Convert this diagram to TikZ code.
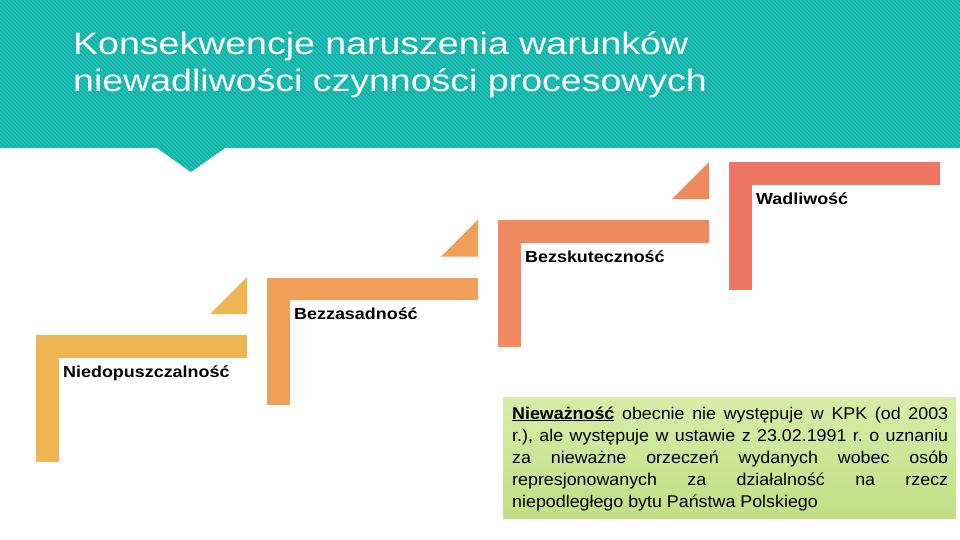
\documentclass[tikz,border=0pt]{standalone}
\usepackage{fontspec}
\setmainfont{Liberation Sans}
\newfontfamily\titlefont{Liberation Sans}[FakeStretch=1.21]
\newfontfamily\lblfont{Liberation Sans}[FakeStretch=1.12]
\newfontfamily\boxfont{Liberation Sans}[FakeStretch=1.05]
\definecolor{teal1}{HTML}{22C6BA}
\definecolor{teal2}{HTML}{12AAA0}
\definecolor{c1}{HTML}{F0B553}
\definecolor{c2}{HTML}{EF9F57}
\definecolor{c3}{HTML}{EE8A5E}
\definecolor{c4}{HTML}{EE7561}
\definecolor{gtop}{HTML}{D8ECA8}
\definecolor{gbot}{HTML}{C2DF86}
\begin{document}
\begin{tikzpicture}[x=1pt,y=-1pt,
  steplabel/.style={anchor=base west,inner sep=0,text=black,font=\lblfont\bfseries\fontsize{16}{19}\selectfont},
  stripe/.style={teal2,line width=1.1}]
\useasboundingbox (0,0) rectangle (960,540);
\fill[white] (0,0) rectangle (960,540);
% header band
\def\band{(0,0) -- (960,0) -- (960,148) -- (225,148) -- (191,172) -- (157,148) -- (0,148) -- cycle}
\fill[teal1] \band;
\begin{scope}
  \clip \band;
  \foreach \a in {-200,-196,...,960} \draw[stripe] (\a,-2) -- ++(180,180);
\end{scope}
\node[anchor=base west,inner sep=0,text=white,align=left,
  font=\titlefont\fontsize{31}{37}\selectfont] (title) at (73,92)
  {Konsekwencje naruszenia warunków\\niewadliwości czynności procesowych};
% steps
\foreach \i/\col in {0/c1,1/c2,2/c3,3/c4}{
  \pgfmathsetmacro\xo{36+231*\i}
  \pgfmathsetmacro\yt{335-57.5*\i}
  \fill[\col] (\xo,\yt) rectangle ++(211,22.5);
  \fill[\col] (\xo,\yt) rectangle ++(23,127);
  \ifnum\i<3
    \fill[\col] (\xo+174,\yt-21) -- (\xo+211,\yt-21) -- (\xo+211,\yt-58) -- cycle;
  \fi
}
\node[steplabel] (l1) at (63,377) {Niedopuszczalność};
\node[steplabel] (l2) at (294,319.5) {Bezzasadność};
\node[steplabel] (l3) at (525,262) {Bezskuteczność};
\node[steplabel] (l4) at (756,204.5) {Wadliwość};
% green box
\shade[top color=gtop,bottom color=gbot] (503,397) rectangle (956,518);
\node[anchor=base west,inner sep=0,text width=436pt,align=justify,
  font=\boxfont\fontsize{17}{22}\selectfont] (note) at (512,419)
  {\tolerance=10000\hbadness=10000\hyphenpenalty=10000\frenchspacing\noindent
  \underline{\textbf{Nieważność}} obecnie nie występuje w KPK (od 2003\linebreak
  r.), ale występuje w ustawie z 23.02.1991 r. o uznaniu\linebreak
  za nieważne orzeczeń wydanych wobec osób\linebreak
  represjonowanych za działalność na rzecz\linebreak
  niepodległego bytu Państwa Polskiego};
\end{tikzpicture}
\end{document}
